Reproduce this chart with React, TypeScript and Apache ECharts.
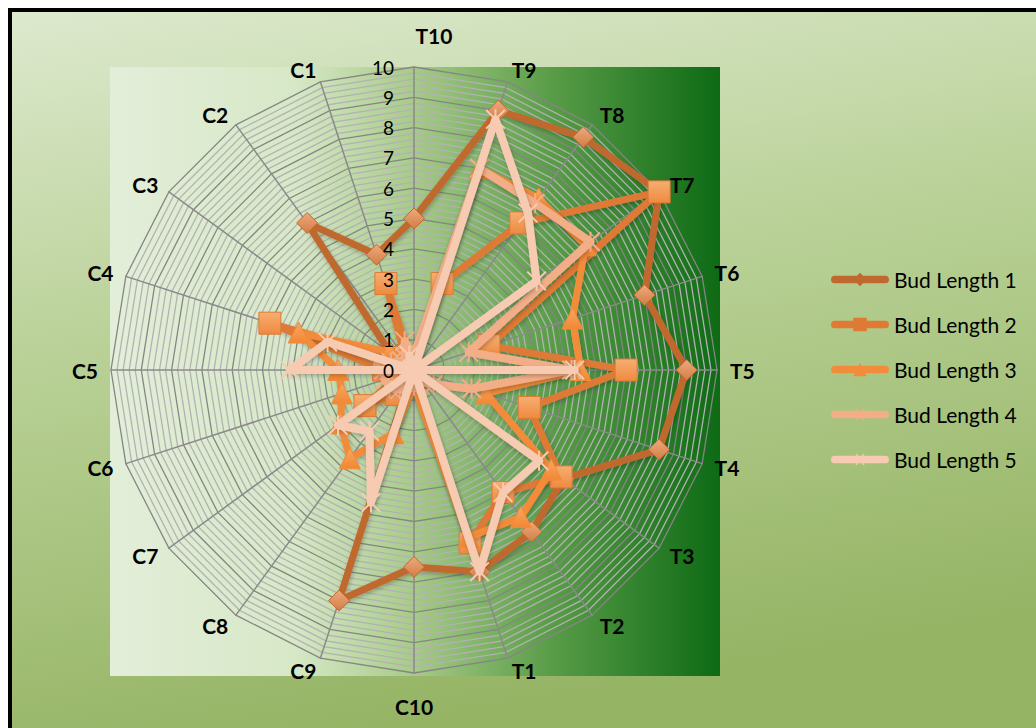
import React, { useEffect, useRef } from 'react';
import * as echarts from 'echarts';

// Indicators listed counter-clockwise from the top (ECharts radar order)
const categories = ['T10', 'C1', 'C2', 'C3', 'C4', 'C5', 'C6', 'C7', 'C8', 'C9', 'C10', 'T1', 'T2', 'T3', 'T4', 'T5', 'T6', 'T7', 'T8', 'T9'];

const seriesNames = ['Bud Length 1', 'Bud Length 2', 'Bud Length 3', 'Bud Length 4', 'Bud Length 5'];

const budLength1 = [5, 4, 6, 1, 0.2, 0.2, 0.2, 0.2, 0.2, 8, 6.5, 7, 6.6, 6.1, 8.5, 9, 8, 10, 9.5, 9];
const budLength2 = [0, 3, 0.5, 0.5, 5, 1, 0.5, 2, 1, 0.5, 0.5, 6, 5, 6, 4, 7, 2.6, 10, 6, 3];
const budLength3 = [0.5, 0.5, 0.5, 1, 4, 2.5, 2.5, 3, 3.6, 2.2, 0.5, 5.8, 6, 5.6, 2.5, 5.5, 5.5, 7, 7, 7];
const budLength4 = [0.5, 1, 0.5, 0.5, 0.8, 1, 1, 1, 0.8, 0.5, 0.5, 0.5, 0.5, 0.8, 2, 5.2, 1.9, 7.2, 6.8, 7];
const budLength5 = [0, 0.5, 0, 0, 3, 4.1, 0, 3.1, 2.5, 4.6, 0, 7, 5, 5.1, 0, 5.3, 0, 5, 6.4, 8.7];

const axisMin = 0;
const axisMax = 10;
const minorSplits = 50;

const lineColors = ['#C0692F', '#DE7A34', '#F28C3A', '#F3AE88', '#F7CBB2'];
const markerTop = ['#EFA97C', '#F7AE72', '#F9A862', '#F3AE88', '#F7CBB2'];
const markerBottom = ['#D27E45', '#EE8A40', '#F18733', '#F3AE88', '#F7CBB2'];

const crossPath =
  'path://M9,0 L11,0 L11,20 L9,20 Z M0,1.4 L1.4,0 L20,18.6 L18.6,20 Z M18.6,0 L20,1.4 L1.4,20 L0,18.6 Z';

const barPath = 'M4,4 L56,4 A4,4 0 0 1 56,12 L4,12 A4,4 0 0 1 4,4 Z';
const legendIcons = [
  'path://' + barPath + ' M30,1 L37,8 L30,15 L23,8 Z',
  'path://' + barPath + ' M23,1 L37,1 L37,15 L23,15 Z',
  'path://' + barPath + ' M30,1 L37,15 L23,15 Z',
  'path://' + barPath + ' M26,2 L27.5,2 L30,6 L32.5,2 L34,2 L31,7 L31,9 L34,14 L32.5,14 L30,10 L27.5,14 L26,14 L29,9 L29,7 Z',
  'path://' + barPath + ' M25,2 L26.5,2 L30,6 L33.5,2 L35,2 L31,7 L31,9 L35,14 L33.5,14 L30,10 L26.5,14 L25,14 L29,9 L29,7 Z',
];

const symbols = ['diamond', 'rect', 'triangle', crossPath, crossPath];
const symbolSizes = [21, 22, 21, 20, 20];
const lineWidths = [7, 7, 7, 8, 8];

export default function App() {
  const ref = useRef<HTMLDivElement>(null);

  useEffect(() => {
    if (!ref.current) return;
    const chart = echarts.init(ref.current, null, { renderer: 'svg' });
    const allValues = [budLength1, budLength2, budLength3, budLength4, budLength5];
    const nameFont = { color: '#000000', fontSize: 21, fontWeight: 'bold', fontFamily: 'Lato' };
    const tickFormatter = (v: number) =>
      Math.abs(v - Math.round(v)) < 1e-6 ? String(Math.round(v)) : '';

    const option: any = {
      animation: false,
      backgroundColor: '#ffffff',
      graphic: [
        {
          type: 'rect',
          z: -20,
          silent: true,
          shape: { x: 10, y: 10, width: 1040, height: 740 },
          style: {
            fill: {
              type: 'linear', x: 0, y: 0, x2: 0.25, y2: 1,
              colorStops: [
                { offset: 0, color: '#DDE9CE' },
                { offset: 0.45, color: '#B9D197' },
                { offset: 1, color: '#95B464' },
              ],
            },
            stroke: '#000000',
            lineWidth: 4,
          },
        },
        {
          type: 'rect',
          z: -19,
          silent: true,
          shape: { x: 110, y: 67, width: 610, height: 609 },
          style: {
            fill: {
              type: 'linear', x: 0, y: 0, x2: 1, y2: 0,
              colorStops: [
                { offset: 0, color: '#E3EED9' },
                { offset: 0.3, color: '#D7E8C7' },
                { offset: 0.5, color: '#A7CA88' },
                { offset: 0.72, color: '#5A9D48' },
                { offset: 1, color: '#0E6A15' },
              ],
            },
          },
        },
      ],
      legend: {
        orient: 'vertical',
        left: 826,
        top: 264,
        itemWidth: 58,
        itemHeight: 16,
        itemGap: 24,
        selectedMode: false,
        textStyle: { color: '#000000', fontSize: 21, fontFamily: 'Lato' },
        data: seriesNames.map((n, i) => ({
          name: n,
          icon: legendIcons[i],
          itemStyle: { color: lineColors[i], borderWidth: 0 },
        })),
      },
      radar: [
        {
          center: [414, 370],
          radius: 303,
          startAngle: 90,
          shape: 'polygon',
          splitNumber: minorSplits,
          nameGap: 13,
          axisName: {
            ...nameFont,
            formatter: (name: string) =>
              name === 'T10' ? '{top|' + name + '}' : name === 'C10' ? '{bottom|' + name + '}' : name,
            rich: {
              top: { ...nameFont, padding: [0, 0, 8, 40] },
              bottom: { ...nameFont, padding: [10, 0, 0, 0] },
            },
          },
          indicator: categories.map((name) => ({ name, min: axisMin, max: axisMax })),
          axisLine: { lineStyle: { color: '#8A8A8A', width: 1.5 } },
          splitLine: {
            lineStyle: {
              color: ['#858585', '#B2B2B2', '#B2B2B2', '#B2B2B2', '#B2B2B2'],
              width: 1.3,
            },
          },
          splitArea: { show: false },
          axisTick: { show: false },
          axisLabel: { show: false },
        },
        {
          // same scale, drawn above the series: only the value labels of the top axis
          z: 20,
          silent: true,
          center: [414, 370],
          radius: 303,
          startAngle: 90,
          shape: 'polygon',
          splitNumber: minorSplits,
          axisName: { show: false },
          indicator: categories.map((name, i) =>
            i === 0
              ? { name, min: axisMin, max: axisMax, axisLabel: { show: true } }
              : { name, min: axisMin, max: axisMax }
          ),
          axisLine: { show: false },
          splitLine: { show: false },
          splitArea: { show: false },
          axisTick: { show: false },
          axisLabel: {
            show: false,
            margin: 20,
            align: 'right',
            color: '#000000',
            fontSize: 19,
            fontFamily: 'Lato',
            formatter: tickFormatter,
          },
        },
      ],
      series: seriesNames.map((name, i) => ({
        type: 'radar',
        radarIndex: 0,
        name,
        z: 2 + i,
        symbol: symbols[i],
        symbolSize: symbolSizes[i],
        emphasis: { disabled: true },
        lineStyle: {
          color: lineColors[i],
          width: lineWidths[i],
          shadowColor: 'rgba(0,0,0,0.25)',
          shadowBlur: 4,
          shadowOffsetX: 1,
          shadowOffsetY: 2,
        },
        itemStyle: {
          color: {
            type: 'linear', x: 0, y: 0, x2: 0, y2: 1,
            colorStops: [
              { offset: 0, color: markerTop[i] },
              { offset: 1, color: markerBottom[i] },
            ],
          },
          borderColor: lineColors[i],
          borderWidth: i < 3 ? 1 : 0,
        },
        data: [{ name, value: allValues[i] }],
      })),
    };

    chart.setOption(option);
    return () => chart.dispose();
  }, []);

  return (
    <div
      ref={ref}
      style={{ position: 'fixed', left: 0, top: 0, width: 1036, height: 728 }}
    />
  );
}
